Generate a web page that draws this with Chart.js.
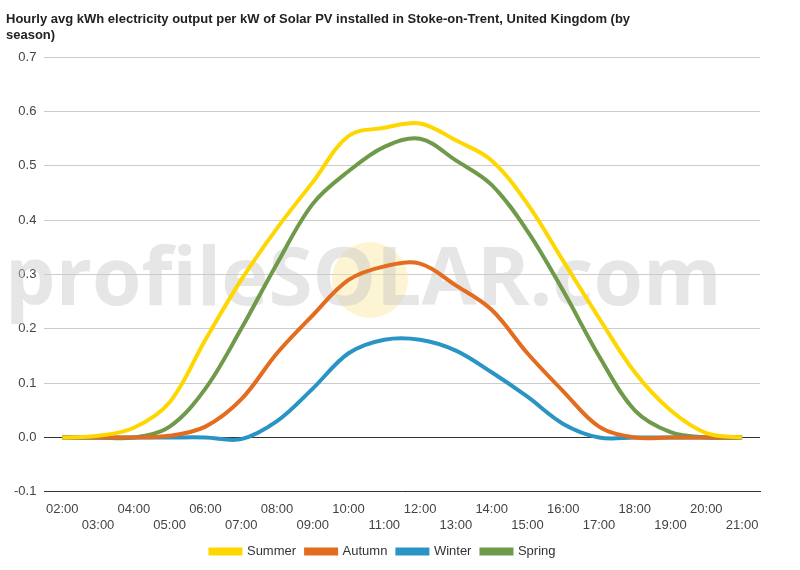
<!DOCTYPE html>
<html>
<head>
<meta charset="utf-8">
<script src="https://cdn.jsdelivr.net/npm/chart.js@4/dist/chart.umd.min.js"></script>
<style>
  body { margin: 0; background: #fff; }
  #wrap { width: 800px; height: 570px; }
</style>
</head>
<body>
<div id="wrap"><canvas id="chart"></canvas></div>
<script>
const hours = ['02:00','03:00','04:00','05:00','06:00','07:00','08:00','09:00','10:00','11:00',
               '12:00','13:00','14:00','15:00','16:00','17:00','18:00','19:00','20:00','21:00'];
const summer = [0, 0.003, 0.018, 0.065, 0.18, 0.29, 0.385, 0.47, 0.555, 0.57, 0.578, 0.547, 0.51, 0.43, 0.325, 0.22, 0.12, 0.05, 0.008, 0];
const autumn = [0, 0, 0, 0.003, 0.02, 0.07, 0.155, 0.225, 0.29, 0.315, 0.32, 0.28, 0.235, 0.155, 0.085, 0.02, 0, 0, 0, 0];
const winter = [0, 0, 0, 0, 0, -0.003, 0.03, 0.09, 0.155, 0.18, 0.18, 0.16, 0.12, 0.075, 0.025, 0, 0, 0, 0, 0];
const spring = [0, 0, 0, 0.02, 0.09, 0.2, 0.32, 0.43, 0.49, 0.535, 0.55, 0.51, 0.465, 0.38, 0.27, 0.15, 0.05, 0.01, 0, 0];

// Watermark behind the lines
const watermark = {
    id: 'watermark',
    beforeDatasetsDraw(chart) {
        const { ctx } = chart;
        ctx.save();
        ctx.beginPath();
        ctx.arc(370, 280, 38, 0, Math.PI * 2);
        ctx.fillStyle = 'rgba(250, 230, 160, 0.45)';
        ctx.fill();
        ctx.font = 'bold 80px "Open Sans", sans-serif';
        ctx.fillStyle = 'rgba(200, 200, 200, 0.45)';
        ctx.textAlign = 'left';
        ctx.textBaseline = 'middle';
        ctx.fillText('profileSOLAR.com', 5, 282);
        ctx.restore();
    }
};

const line = (label, data, color) => ({
    label, data, borderColor: color, backgroundColor: color,
    borderWidth: 4, pointRadius: 0, tension: 0.35, fill: false
});

new Chart(document.getElementById('chart'), {
    type: 'line',
    data: {
        labels: hours,
        datasets: [
            line('Summer', summer, '#FFD700'),
            line('Autumn', autumn, '#E36C1E'),
            line('Winter', winter, '#2A95C5'),
            line('Spring', spring, '#6E9A4A')
        ]
    },
    options: {
        responsive: true, maintainAspectRatio: false, animation: false,
        layout: { padding: { left: 6, right: 40, top: 0, bottom: 2 } },
        plugins: {
            title: {
                display: true, align: 'start',
                text: ['Hourly avg kWh electricity output per kW of Solar PV installed in Stoke-on-Trent, United Kingdom (by', 'season)'],
                color: '#222', font: { family: 'Arial, "Liberation Sans"', size: 13, weight: 'bold' },
                padding: { top: 12, bottom: 14 }
            },
            legend: {
                position: 'bottom',
                labels: { boxWidth: 30, boxHeight: 4, color: '#333', font: { family: 'Arial, "Liberation Sans"', size: 13 }, padding: 10 }
            },
            tooltip: { enabled: false }
        },
        scales: {
            x: {
                offset: true,
                grid: { display: false },
                border: { color: '#333' },
                ticks: {
                    color: '#444', font: { family: 'Arial, "Liberation Sans"', size: 13 },
                    maxRotation: 0, autoSkip: false, padding: 2,
                    callback: (v, i) => i % 2 === 0 ? [hours[i], ''] : ['', hours[i]]
                }
            },
            y: {
                min: -0.1, max: 0.7,
                border: { display: false },
                grid: { color: c => Math.abs(c.tick.value) < 1e-9 ? '#333' : '#ccc', drawTicks: false },
                ticks: {
                    stepSize: 0.1, padding: 8, color: '#444',
                    font: { family: 'Arial, "Liberation Sans"', size: 13 },
                    callback: v => (Math.abs(v) < 1e-9 ? 0 : v).toFixed(1)
                }
            }
        }
    },
    plugins: [watermark]
});
</script>
</body>
</html>
